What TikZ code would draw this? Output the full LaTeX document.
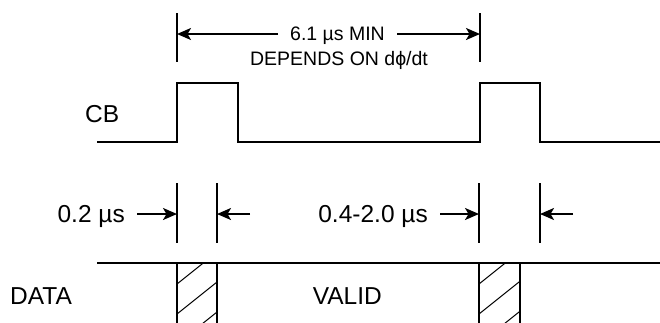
\documentclass[tikz,border=0pt]{standalone}
\usepackage{fontspec}
\setmainfont{Liberation Sans}
\usetikzlibrary{arrows.meta}
\begin{document}
\begin{tikzpicture}[x=1pt,y=-1pt,
  big/.style={font=\fontsize{24.5}{27}\selectfont, inner sep=0pt},
  small/.style={font=\fontsize{19.5}{22}\selectfont, inner sep=0pt},
  sig/.style={line width=2pt},
  tickline/.style={line width=2pt},
  dim/.style={line width=2pt, -{Stealth[length=14pt,width=12pt,inset=3.5pt]}},
  hatchline/.style={line width=1pt}]
\useasboundingbox (0,0) rectangle (660,322);

% ---- top dimension ----
\coordinate (t1a) at (177,13); \coordinate (t1b) at (177,62);
\coordinate (t2a) at (480,13); \coordinate (t2b) at (480,62);
\draw[tickline] (t1a) -- (t1b);
\draw[tickline] (t2a) -- (t2b);
\node[small, anchor=base] (mintxt) at (337.5,40) {6.1 µs MIN};
\node[small, anchor=base] (deptxt) at (339,65) {DEPENDS ON dϕ/dt};
\coordinate (la) at (278,34); \coordinate (t1m) at (177,34);
\coordinate (ra) at (397,34); \coordinate (t2m) at (480,34);
\draw[dim] (la) -- (t1m);
\draw[dim] (ra) -- (t2m);

% ---- CB signal ----
\node[big, anchor=base west] (cb) at (85,122) {CB};
\coordinate (c0) at (97,142);
\draw[sig] (c0) -- (177,142) -- (177,83) -- (238,83) -- (238,142)
  -- (480,142) -- (480,83) -- (540,83) -- (540,142) -- (660,142);

% ---- lower dimensions ----
\foreach \n/\x in {b1/177,b2/217,b3/479,b4/540}{
  \coordinate (\n a) at (\x,183); \coordinate (\n b) at (\x,243);
  \coordinate (\n m) at (\x,214);
  \draw[tickline] (\n a) -- (\n b);
}
\node[big, anchor=base east] (d02) at (125,222) {0.2 µs};
\node[big, anchor=base east] (d04) at (428,222) {0.4-2.0 µs};
\coordinate (a1) at (137,214); \coordinate (a2) at (250,214);
\coordinate (a3) at (440,214); \coordinate (a4) at (573,214);
\draw[dim] (a1) -- (b1m);
\draw[dim] (a2) -- (b2m);
\draw[dim] (a3) -- (b3m);
\draw[dim] (a4) -- (b4m);

% ---- DATA ----
\node[big, anchor=base west] (data) at (10,304) {DATA};
\node[big, anchor=base east] (valid) at (382,304) {VALID};
\draw[sig] (97,263) -- (660,263);

% hatched boxes
\foreach \xl/\xr in {177/217,479/520}{
  \begin{scope}
    \clip (\xl,263) rectangle (\xr,324);
    \foreach \c in {254,284,314,344,374}{
      \draw[hatchline] (\xl,\c) -- ({\xr},{\c-0.8*(\xr-\xl)});
    }
  \end{scope}
  \draw[sig] (\xl,263) -- (\xl,324);
  \draw[sig] (\xr,263) -- (\xr,324);
}
\end{tikzpicture}
\end{document}
